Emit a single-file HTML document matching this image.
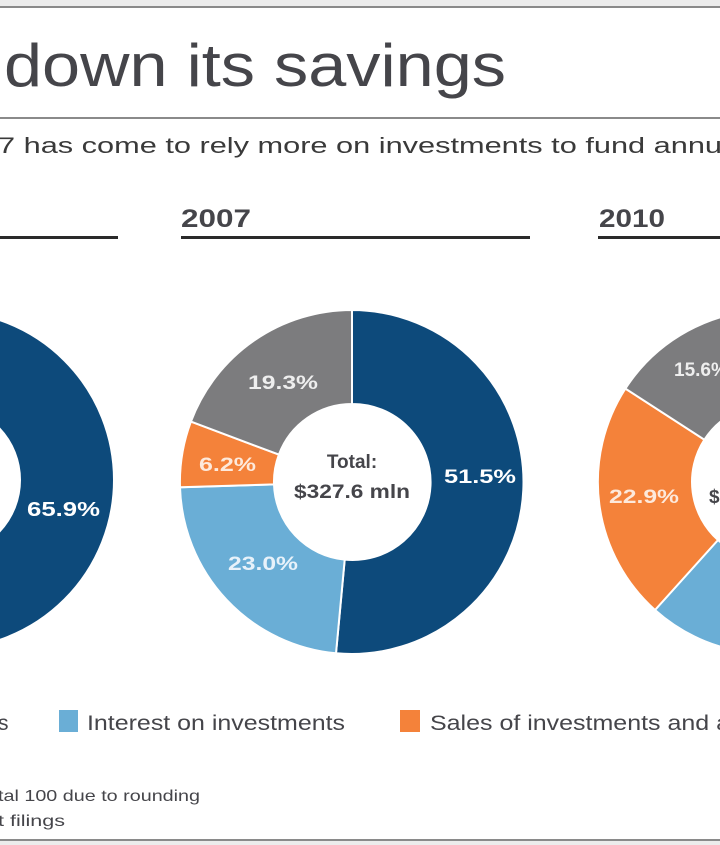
<!DOCTYPE html>
<html><head><meta charset="utf-8"><style>
html,body{margin:0;padding:0;background:#fff;}
svg{display:block;}
text{font-family:"Liberation Sans",sans-serif;}
</style></head><body>
<svg width="720" height="845" viewBox="0 0 720 845" xmlns="http://www.w3.org/2000/svg">
<rect width="720" height="845" fill="#fff"/>
<rect x="0" y="0" width="720" height="6" fill="#ececec"/>
<rect x="0" y="6" width="720" height="2" fill="#8a8a8a"/>
<text x="4" y="86" font-size="60" fill="#45454a" textLength="502" lengthAdjust="spacingAndGlyphs">down its savings</text>
<rect x="0" y="117" width="720" height="2" fill="#8a8a8a"/>
<text x="-2" y="153" font-size="22" fill="#3a3a3a" textLength="724" lengthAdjust="spacingAndGlyphs">7 has come to rely more on investments to fund annu</text>
<text x="181" y="227" font-size="25" font-weight="bold" fill="#45454a" textLength="70" lengthAdjust="spacingAndGlyphs">2007</text>
<text x="599" y="227" font-size="25" font-weight="bold" fill="#45454a" textLength="66" lengthAdjust="spacingAndGlyphs">2010</text>
<rect x="0" y="236" width="118" height="3" fill="#2a2a2a"/>
<rect x="181" y="236" width="349" height="3" fill="#2a2a2a"/>
<rect x="598" y="236" width="122" height="3" fill="#2a2a2a"/>

<!-- left donut -->
<circle cx="-55" cy="480" r="122" fill="none" stroke="#0d4a7b" stroke-width="92"/>
<text x="27" y="516" font-size="20" font-weight="bold" fill="#fff" textLength="73" lengthAdjust="spacingAndGlyphs">65.9%</text>

<!-- middle donut cx=352 cy=482 R=172 r=78 -->
<g stroke="#fff" stroke-width="2">
<path d="M352,310 A172,172 0 1 1 336.0,653.3 L344.7,559.6 A78,78 0 1 0 352,404 Z" fill="#0d4a7b"/>
<path d="M336.0,653.3 A172,172 0 0 1 180.0,487.3 L274.0,484.4 A78,78 0 0 0 344.7,559.6 Z" fill="#6aaed6"/>
<path d="M180.0,487.3 A172,172 0 0 1 190.9,421.6 L278.9,454.6 A78,78 0 0 0 274.0,484.4 Z" fill="#f4823a"/>
<path d="M190.9,421.6 A172,172 0 0 1 352,310 L352,404 A78,78 0 0 0 278.9,454.6 Z" fill="#7c7c7e"/>
</g>
<text x="352" y="468" font-size="19" font-weight="bold" fill="#45454a" text-anchor="middle">Total:</text>
<text x="352" y="498" font-size="19" font-weight="bold" fill="#45454a" text-anchor="middle" textLength="116" lengthAdjust="spacingAndGlyphs">$327.6 mln</text>
<text x="444" y="483" font-size="19" font-weight="bold" fill="#fff" textLength="72" lengthAdjust="spacingAndGlyphs">51.5%</text>
<text x="228" y="570" font-size="19" font-weight="bold" fill="#e8f2fa" textLength="70" lengthAdjust="spacingAndGlyphs">23.0%</text>
<text x="199" y="471" font-size="19" font-weight="bold" fill="#fde9db" textLength="57" lengthAdjust="spacingAndGlyphs">6.2%</text>
<text x="248" y="389" font-size="19" font-weight="bold" fill="#eeeeee" textLength="70" lengthAdjust="spacingAndGlyphs">19.3%</text>

<!-- right donut cx=770 cy=482 -->
<g stroke="#fff" stroke-width="2">
<path d="M770,310 A172,172 0 0 1 880,614 L820,542 A78,78 0 0 0 770,404 Z" fill="#0d4a7b"/>
<path d="M880,614 A172,172 0 0 1 655,610 L718,540 A78,78 0 0 0 820,542 Z" fill="#6aaed6"/>
<path d="M655,610 A172,172 0 0 1 625.4,388.6 L704.4,439.7 A78,78 0 0 0 718,540 Z" fill="#f4823a"/>
<path d="M625.4,388.6 A172,172 0 0 1 770,310 L770,404 A78,78 0 0 0 704.4,439.7 Z" fill="#7c7c7e"/>
</g>
<text x="674" y="376" font-size="19" font-weight="bold" fill="#eeeeee">15.6%</text>
<text x="609" y="503" font-size="19" font-weight="bold" fill="#fde9db" textLength="70" lengthAdjust="spacingAndGlyphs">22.9%</text>
<text x="709" y="503" font-size="19" font-weight="bold" fill="#45454a">$</text>

<!-- legend -->
<text x="-2" y="730" font-size="21" fill="#45454a">s</text>
<rect x="59" y="710" width="19" height="22" fill="#6aaed6"/>
<text x="87" y="730" font-size="21" fill="#45454a" textLength="258" lengthAdjust="spacingAndGlyphs">Interest on investments</text>
<rect x="400" y="710" width="20" height="22" fill="#f4823a"/>
<text x="430" y="730" font-size="21" fill="#45454a" textLength="300" lengthAdjust="spacingAndGlyphs">Sales of investments and a</text>

<text x="-2" y="801" font-size="16" fill="#45454a" textLength="202" lengthAdjust="spacingAndGlyphs">tal 100 due to rounding</text>
<text x="-2" y="826" font-size="16" fill="#45454a" textLength="67" lengthAdjust="spacingAndGlyphs">t filings</text>

<rect x="0" y="839" width="720" height="2" fill="#8a8a8a"/>
<rect x="0" y="841" width="720" height="4" fill="#ececec"/>
</svg>
</body></html>
